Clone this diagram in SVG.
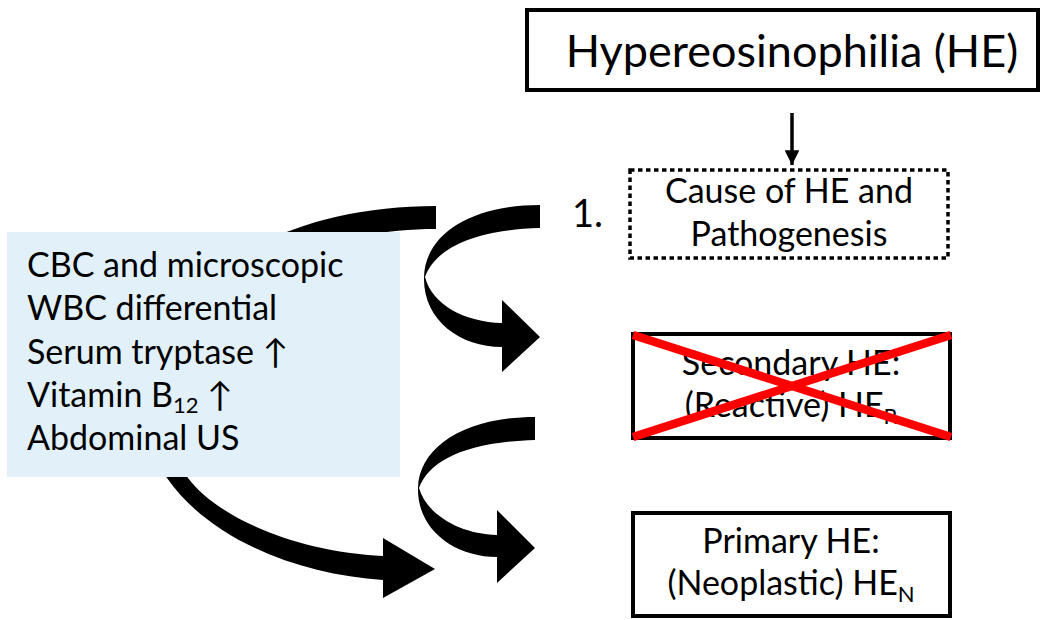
<svg xmlns="http://www.w3.org/2000/svg" width="1052" height="620" viewBox="0 0 1052 620">
  <style>
    .bg { fill: #ffffff; }
    .box { fill: #ffffff; stroke: #000000; stroke-width: 4; }
    .dotted { fill: #ffffff; stroke: #000000; stroke-width: 3.5; stroke-dasharray: 4.5 3.5; }
    .tests { fill: #E1F0F9; stroke: none; }
    .txt { font-family: Lato, "DejaVu Sans", sans-serif; font-size: 34px; fill: #000000; }
    .title { font-family: Lato, "DejaVu Sans", sans-serif; font-size: 45px; fill: #000000; }
    .sub { font-size: 22px; }
    .mid { text-anchor: middle; }
    .bent { fill: #000000; stroke: none; }
    .cross { stroke: #FF0000; stroke-width: 8.5; stroke-linecap: butt; }
  </style>
  <defs>
    <marker id="head" viewBox="0 0 10 10" refX="10" refY="5" markerWidth="4.2" markerHeight="4.2" orient="auto" markerUnits="strokeWidth">
      <path d="M0,0 L10,5 L0,10 Z" fill="#000000"/>
    </marker>
  </defs>

  <rect class="bg" x="0" y="0" width="1052" height="620"/>

  <!-- connectors -->
  <g id="connectors">
    <!-- straight arrow from the title down to the cause box -->
    <line x1="792" y1="113" x2="792" y2="165" stroke="#000000" stroke-width="3.5" marker-end="url(#head)"/>
    <!-- large curved arrow running behind the test panel -->
    <path class="bent" d="M436,206 C290,206 170,270 150,380 C140,420 150,455 167,478 C210,540 300,575 383,580 L383,598 L435,569 L383,538 L383,556 C300,552 220,520 188,478 C170,455 155,420 150,380 C190,300 300,229 436,229 Z"/>
    <!-- curved arrow towards the secondary box -->
    <path class="bent" d="M540,205 C470,205 425,235 424,277 C423,320 460,347 502,347 L502,372 L540,337 L502,300 L502,323 C465,322 432,305 425,277 C435,250 470,230 540,228 Z"/>
    <!-- curved arrow towards the primary box -->
    <path class="bent" d="M535,417 C465,417 419,447 418,488 C417,530 455,557 497,557 L497,583 L535,548 L497,510 L497,535 C460,534 427,515 419,488 C429,461 465,442 535,440 Z"/>
  </g>

  <!-- title -->
  <g id="node-title">
    <rect class="box" x="527" y="10" width="511" height="80"/>
    <text class="title mid" x="792" y="67">Hypereosinophilia (HE)</text>
  </g>

  <!-- step 1: cause -->
  <g id="node-cause">
    <text class="txt" x="572" y="227" style="font-size:38px">1.</text>
    <rect class="dotted" x="630" y="170" width="318" height="88"/>
    <text class="txt mid" x="789" y="203">Cause of HE and</text>
    <text class="txt mid" x="789" y="246">Pathogenesis</text>
  </g>

  <!-- secondary (ruled out) -->
  <g id="node-secondary">
    <rect class="box" x="633" y="334" width="317" height="104"/>
    <text class="txt mid" x="791" y="375">Secondary HE:</text>
    <text class="txt mid" x="791" y="417">(Reactive) HE<tspan class="sub" dy="7">R</tspan></text>
    <line class="cross" x1="633" y1="335" x2="951" y2="437"/>
    <line class="cross" x1="633" y1="437" x2="951" y2="335"/>
  </g>

  <!-- primary -->
  <g id="node-primary">
    <rect class="box" x="633" y="513" width="317" height="103"/>
    <text class="txt mid" x="791" y="553">Primary HE:</text>
    <text class="txt mid" x="791" y="595">(Neoplastic) HE<tspan class="sub" dy="7">N</tspan></text>
  </g>

  <!-- laboratory work-up panel -->
  <g id="node-tests">
    <rect class="tests" x="7" y="232" width="393" height="245"/>
    <text class="txt" x="27" y="277">CBC and microscopic</text>
    <text class="txt" x="27" y="320">WBC differential</text>
    <text class="txt" x="27" y="364">Serum tryptase ↑</text>
    <text class="txt" x="27" y="407">Vitamin B<tspan class="sub" dy="6">12</tspan><tspan dy="-6"> ↑</tspan></text>
    <text class="txt" x="27" y="450">Abdominal US</text>
  </g>
</svg>
